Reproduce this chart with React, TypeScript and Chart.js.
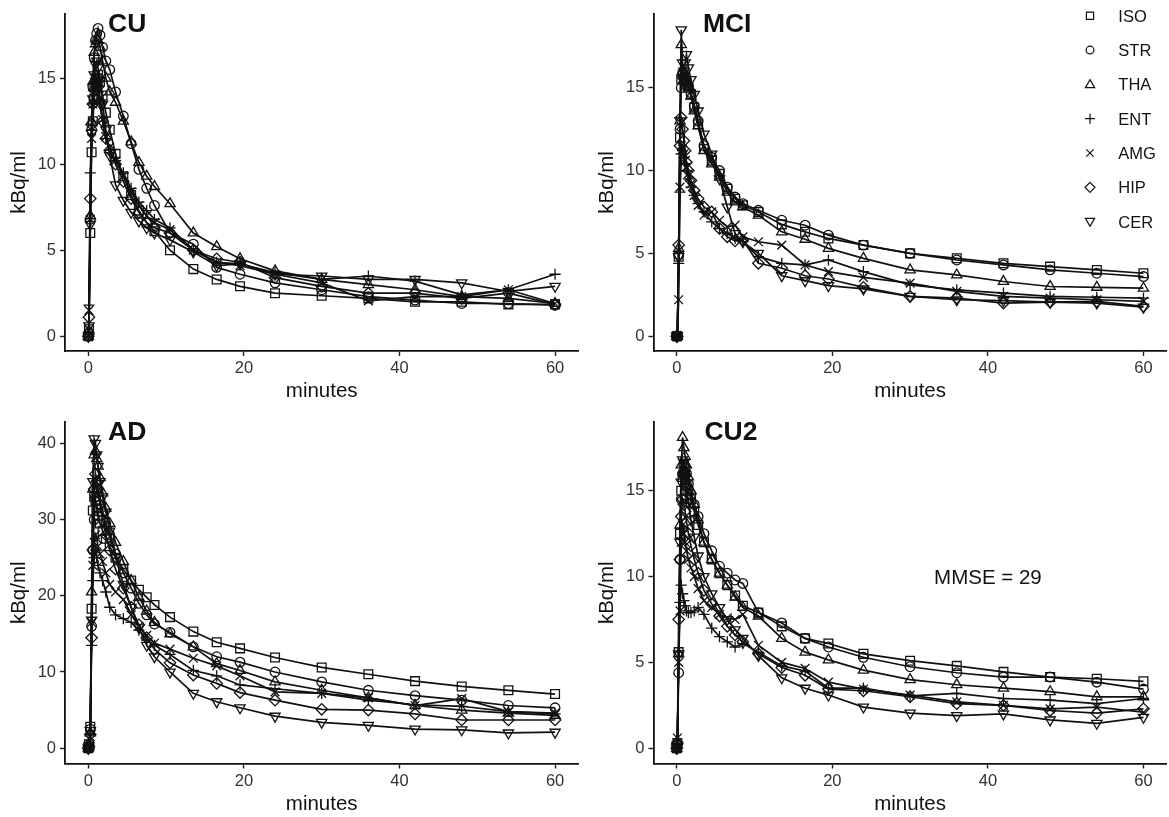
import React, { useEffect, useRef } from "react";
import { Chart, registerables } from "chart.js";

Chart.register(...registerables);

// ---------- data ----------
const minutes = [0, 0.08, 0.25, 0.42, 0.58, 0.75, 0.92, 1.08, 1.25, 1.5, 1.83, 2.25, 2.75, 3.5, 4.5, 5.5, 6.5, 7.5, 8.5, 10.5, 13.5, 16.5, 19.5, 24, 30, 36, 42, 48, 54, 60];
const regions = ["ISO", "STR", "THA", "ENT", "AMG", "HIP", "CER"];
const xTicks = [0, 20, 40, 60];
const yTicksSmall = [0, 5, 10, 15];
const yTicksAD = [0, 10, 20, 30, 40];

const cuISO = [0, 0.4, 6.0, 10.7, 12.5, 13.8, 14.5, 15.0, 15.2, 14.8, 14.0, 13.0, 12.0, 10.6, 9.3, 8.2, 7.3, 6.6, 6.1, 5.0, 3.9, 3.3, 2.9, 2.5, 2.35, 2.2, 2.0, 2.0, 1.85, 1.85];
const cuSTR = [0, 0.2, 6.8, 12.0, 14.5, 16.2, 17.2, 17.6, 17.9, 17.5, 16.8, 16.0, 15.5, 14.2, 12.8, 11.2, 9.7, 8.6, 7.6, 6.0, 5.35, 4.0, 3.6, 3.1, 2.7, 2.3, 2.1, 1.9, 1.9, 1.8];
const cuTHA = [0, 0.3, 7.0, 12.5, 14.8, 16.5, 17.0, 17.3, 17.2, 16.8, 16.0, 15.0, 14.2, 13.6, 12.5, 11.3, 10.1, 9.3, 8.7, 7.7, 6.0, 5.2, 4.5, 3.8, 3.3, 3.0, 2.7, 2.3, 2.2, 1.9];
const cuENT = [0, 1.8, 9.5, 12.0, 13.5, 14.5, 15.0, 14.8, 14.2, 13.5, 12.5, 11.5, 10.8, 10.2, 9.5, 8.6, 7.8, 7.3, 6.8, 6.3, 5.0, 4.3, 4.2, 3.7, 3.3, 3.5, 3.2, 2.4, 2.7, 3.6];
const cuAMG = [0, 1.5, 6.8, 11.5, 13.5, 14.5, 15.0, 15.0, 14.6, 13.8, 12.6, 11.6, 11.0, 10.2, 9.3, 8.4, 7.6, 7.0, 6.6, 6.2, 5.0, 4.3, 4.1, 3.6, 3.1, 2.05, 2.3, 2.3, 2.7, 1.9];
const cuHIP = [0, 1.1, 8.0, 12.3, 13.5, 14.3, 14.8, 14.9, 14.5, 13.6, 12.5, 11.5, 10.8, 10.0, 9.0, 8.0, 7.2, 6.6, 6.3, 6.0, 5.0, 4.5, 4.3, 3.4, 2.9, 2.5, 2.5, 2.2, 2.5, 1.85];
const cuCER = [0, 0.6, 6.5, 11.8, 13.8, 15.2, 15.8, 16.0, 15.6, 14.8, 13.5, 12.0, 10.5, 8.8, 7.9, 7.2, 6.7, 6.3, 6.0, 5.6, 4.9, 4.1, 4.2, 3.6, 3.5, 3.3, 3.3, 3.1, 2.6, 2.9];

const mciISO = [0, 0, 4.8, 12.0, 15.5, 15.8, 15.5, 15.4, 15.2, 15.0, 14.6, 13.8, 12.8, 11.3, 10.6, 9.8, 8.9, 8.3, 7.9, 7.5, 6.75, 6.3, 5.9, 5.5, 5.0, 4.7, 4.4, 4.2, 4.0, 3.8];
const mciSTR = [0, 0, 4.9, 12.5, 15.0, 15.8, 15.6, 15.5, 15.3, 15.1, 14.7, 13.9, 13.0, 11.5, 10.8, 10.0, 9.0, 8.4, 8.0, 7.6, 7.0, 6.7, 6.1, 5.5, 5.0, 4.6, 4.3, 4.0, 3.8, 3.6];
const mciTHA = [0, 0, 5.3, 13.0, 17.6, 16.0, 15.5, 15.6, 15.4, 15.0, 14.5, 13.6, 12.7, 11.2, 10.4, 9.6, 8.7, 8.1, 7.8, 7.3, 6.3, 5.85, 5.3, 4.7, 4.0, 3.7, 3.3, 3.0, 2.95, 2.9];
const mciENT = [0, 0, 4.4, 8.7, 11.0, 11.2, 10.8, 10.4, 10.0, 9.5, 9.0, 8.5, 8.0, 7.5, 6.9, 6.5, 6.2, 5.9, 5.7, 4.8, 4.4, 4.3, 4.6, 3.9, 3.1, 2.8, 2.6, 2.4, 2.35, 2.3];
const mciAMG = [0, 0, 2.2, 9.0, 11.5, 11.3, 11.0, 10.6, 10.2, 9.8, 9.2, 8.5, 7.9, 7.3, 7.5, 7.0, 6.6, 6.7, 6.0, 5.7, 5.5, 4.3, 3.9, 3.55, 3.2, 2.7, 2.4, 2.3, 2.2, 2.1];
const mciHIP = [0, 0, 5.5, 11.5, 13.2, 12.5, 11.8, 11.2, 10.5, 10.0, 9.4, 8.8, 8.3, 7.8, 7.5, 6.5, 6.0, 5.75, 5.8, 4.4, 4.1, 3.65, 3.45, 2.95, 2.4, 2.3, 2.0, 2.05, 2.1, 1.8];
const mciCER = [0, 0, 4.8, 13.0, 18.5, 16.5, 16.0, 16.5, 17.0, 16.2, 15.5, 14.6, 13.6, 12.2, 11.0, 9.5, 7.8, 6.2, 5.7, 5.0, 3.65, 3.35, 3.05, 2.85, 2.4, 2.2, 2.15, 2.05, 2.0, 1.75];

const adISO = [0, 0.5, 2.8, 18.3, 31.2, 33.0, 32.5, 31.5, 30.5, 29.5, 28.5, 27.5, 26.5, 25.0, 23.5, 22.0, 20.8, 19.8, 18.8, 17.2, 15.3, 13.9, 13.1, 11.9, 10.6, 9.7, 8.8, 8.1, 7.6, 7.1];
const adSTR = [0, 0.3, 2.5, 16.0, 26.0, 30.0, 33.0, 34.0, 33.5, 32.5, 31.0, 29.5, 28.0, 25.5, 23.0, 21.0, 19.0, 17.5, 16.3, 15.2, 13.3, 12.0, 11.3, 10.0, 8.7, 7.6, 6.9, 6.3, 5.6, 5.3];
const adTHA = [0, 0.2, 2.0, 20.5, 34.0, 38.5, 39.0, 38.0, 37.0, 35.5, 33.5, 31.5, 29.5, 27.0, 24.5, 22.0, 19.8, 18.0, 16.5, 15.0, 13.3, 11.1, 10.2, 8.7, 7.6, 6.6, 5.6, 5.0, 4.6, 4.3];
const adENT = [0, 0.4, 1.8, 13.5, 22.0, 25.0, 26.0, 25.0, 24.0, 23.0, 22.0, 20.5, 18.5, 17.5, 17.0, 16.5, 15.5, 14.2, 13.5, 12.3, 10.2, 9.5, 8.3, 7.8, 7.2, 6.3, 5.7, 5.5, 4.8, 4.5];
const adAMG = [0, 0.3, 1.5, 16.5, 24.0, 27.0, 28.0, 27.5, 26.5, 25.5, 24.5, 23.0, 21.5, 20.5, 19.5, 17.5, 16.0, 14.8, 13.8, 13.0, 11.8, 10.8, 9.5, 7.4, 7.2, 6.6, 5.6, 6.5, 4.8, 4.6];
const adHIP = [0, 0.2, 1.8, 14.5, 26.0, 34.0, 36.0, 35.0, 34.0, 32.0, 30.0, 28.0, 26.0, 23.5, 21.0, 18.5, 16.2, 14.5, 13.0, 11.2, 9.6, 8.5, 7.3, 6.3, 5.1, 5.0, 4.5, 3.7, 3.7, 3.7];
const adCER = [0, 0.3, 2.3, 16.8, 35.0, 40.6, 40.0, 38.5, 37.0, 35.0, 33.0, 31.0, 28.5, 25.0, 21.5, 18.5, 15.8, 13.5, 12.0, 10.0, 7.2, 6.1, 5.3, 4.2, 3.4, 3.0, 2.5, 2.4, 2.0, 2.1];

const cu2ISO = [0, 0.3, 5.6, 12.5, 15.0, 15.8, 16.0, 15.7, 15.3, 15.0, 14.5, 13.8, 13.0, 12.0, 11.0, 10.2, 9.5, 8.9, 8.3, 7.9, 7.1, 6.4, 6.1, 5.5, 5.1, 4.8, 4.45, 4.15, 4.05, 3.9];
const cu2STR = [0, 0.2, 4.4, 11.0, 14.5, 16.0, 16.5, 16.3, 16.0, 15.4, 14.8, 14.2, 13.5, 12.5, 11.5, 10.6, 10.2, 9.8, 9.6, 7.9, 7.3, 6.4, 5.9, 5.3, 4.75, 4.4, 4.15, 4.15, 3.85, 3.45];
const cu2THA = [0, 0.4, 5.5, 13.0, 16.5, 18.1, 17.5, 17.0, 16.5, 15.8, 15.0, 14.2, 13.3, 12.0, 11.0, 10.2, 9.5, 8.8, 8.2, 7.7, 6.4, 5.6, 5.15, 4.55, 4.0, 3.7, 3.5, 3.3, 3.0, 3.0];
const cu2ENT = [0, 0.3, 5.6, 8.5, 9.5, 9.0, 8.6, 8.3, 8.0, 7.9, 7.9, 8.0, 8.2, 7.8, 7.0, 6.5, 6.2, 5.9, 6.1, 5.6, 4.8, 4.5, 3.5, 3.5, 3.05, 3.2, 2.9, 2.8, 2.6, 2.9];
const cu2AMG = [0, 0.6, 5.0, 8.0, 12.0, 13.0, 12.5, 12.0, 11.5, 11.0, 10.5, 10.0, 9.3, 8.6, 8.2, 7.8, 7.6, 7.5, 7.8, 6.0, 5.0, 4.65, 3.85, 3.45, 3.1, 2.7, 2.5, 2.3, 2.4, 2.1];
const cu2HIP = [0, 0.3, 7.5, 11.0, 13.5, 14.5, 14.2, 13.8, 13.2, 12.5, 11.8, 11.0, 10.2, 9.2, 8.4, 7.7, 7.1, 6.6, 6.2, 5.5, 4.7, 4.25, 3.45, 3.35, 3.0, 2.6, 2.5, 2.2, 2.05, 2.3];
const cu2CER = [0, 0.2, 5.5, 12.0, 15.5, 16.8, 16.6, 16.0, 15.2, 14.3, 13.3, 12.3, 11.2, 10.0, 9.0, 8.2, 7.5, 6.9, 6.4, 5.4, 4.1, 3.5, 3.1, 2.4, 2.05, 1.9, 2.0, 1.65, 1.45, 1.8];

// ---------- styling / layout ----------
const W = 1169;
const H = 817;
const FONT = '"Liberation Sans", Arial, Helvetica, sans-serif';
const INK = "#111111";
const Y_AXIS_W = 58;
const X_AXIS_H = 53;

const markerStyles: { style: string; radius: number; rotation: number }[] = [
  { style: "rect", radius: 6.2, rotation: 0 },
  { style: "circle", radius: 4.8, rotation: 0 },
  { style: "triangle", radius: 5.9, rotation: 0 },
  { style: "cross", radius: 5.6, rotation: 0 },
  { style: "crossRot", radius: 6.2, rotation: 0 },
  { style: "rectRot", radius: 5.7, rotation: 0 },
  { style: "triangle", radius: 5.9, rotation: 180 },
];

type Panel = {
  title: string;
  series: number[][];
  yTicks: number[];
  yMin: number;
  yMax: number;
  area: { left: number; top: number; right: number; bottom: number };
  titleDx: number;
  legend?: boolean;
  note?: { text: string; x: number; y: number };
};

const panels: Panel[] = [
  {
    title: "CU",
    series: [cuISO, cuSTR, cuTHA, cuENT, cuAMG, cuHIP, cuCER],
    yTicks: yTicksSmall,
    yMin: -0.862,
    yMax: 18.74,
    area: { left: 65, top: 10, right: 578.4, bottom: 351 },
    titleDx: 43,
  },
  {
    title: "MCI",
    series: [mciISO, mciSTR, mciTHA, mciENT, mciAMG, mciHIP, mciCER],
    yTicks: yTicksSmall,
    yMin: -0.896,
    yMax: 19.46,
    area: { left: 653.4, top: 10, right: 1166.8, bottom: 351 },
    titleDx: 49.5,
    legend: true,
  },
  {
    title: "AD",
    series: [adISO, adSTR, adTHA, adENT, adAMG, adHIP, adCER],
    yTicks: yTicksAD,
    yMin: -2.01,
    yMax: 42.81,
    area: { left: 65, top: 422, right: 578.4, bottom: 763.5 },
    titleDx: 43,
  },
  {
    title: "CU2",
    series: [cu2ISO, cu2STR, cu2THA, cu2ENT, cu2AMG, cu2HIP, cu2CER],
    yTicks: yTicksSmall,
    yMin: -0.885,
    yMax: 19.0,
    area: { left: 653.4, top: 422, right: 1166.8, bottom: 763.5 },
    titleDx: 51,
    note: { text: "MMSE = 29", x: 40, y: 10 },
  },
];

function drawLegendSymbol(ctx: CanvasRenderingContext2D, i: number, x: number, y: number) {
  ctx.beginPath();
  switch (i) {
    case 0:
      ctx.rect(x - 3.6, y - 3.6, 7.2, 7.2);
      break;
    case 1:
      ctx.arc(x, y, 3.9, 0, Math.PI * 2);
      break;
    case 2:
      ctx.moveTo(x, y - 4.8);
      ctx.lineTo(x + 4.6, y + 3.2);
      ctx.lineTo(x - 4.6, y + 3.2);
      ctx.closePath();
      break;
    case 3:
      ctx.moveTo(x - 5, y);
      ctx.lineTo(x + 5, y);
      ctx.moveTo(x, y - 5);
      ctx.lineTo(x, y + 5);
      break;
    case 4:
      ctx.moveTo(x - 3.7, y - 3.7);
      ctx.lineTo(x + 3.7, y + 3.7);
      ctx.moveTo(x + 3.7, y - 3.7);
      ctx.lineTo(x - 3.7, y + 3.7);
      break;
    case 5:
      ctx.moveTo(x, y - 5);
      ctx.lineTo(x + 5, y);
      ctx.lineTo(x, y + 5);
      ctx.lineTo(x - 5, y);
      ctx.closePath();
      break;
    case 6:
      ctx.moveTo(x, y + 4.8);
      ctx.lineTo(x + 4.6, y - 3.2);
      ctx.lineTo(x - 4.6, y - 3.2);
      ctx.closePath();
      break;
  }
  ctx.stroke();
}

const decorPlugin = {
  id: "panelDecor",
  afterDraw(chart: any, _args: any, opts: any) {
    const ctx: CanvasRenderingContext2D = chart.ctx;
    const { left, top } = chart.chartArea;
    ctx.save();
    ctx.fillStyle = INK;
    ctx.textAlign = "left";
    ctx.textBaseline = "alphabetic";
    ctx.font = `bold 26.5px ${FONT}`;
    ctx.fillText(opts.title, left + opts.titleDx, top + 18);

    if (opts.note) {
      const xs = chart.scales.x;
      const ys = chart.scales.y;
      ctx.font = `20.5px ${FONT}`;
      ctx.textAlign = "center";
      ctx.fillText(opts.note.text, xs.getPixelForValue(opts.note.x), ys.getPixelForValue(opts.note.y) + 7.4);
    }

    if (opts.legend) {
      ctx.strokeStyle = INK;
      ctx.lineWidth = 1.2;
      ctx.font = `16.5px ${FONT}`;
      ctx.textAlign = "left";
      regions.forEach((name, i) => {
        const cy = 15.8 + i * 34.3;
        drawLegendSymbol(ctx, i, 1090, cy);
        ctx.fillText(name, 1118.3, cy + 5.9);
      });
    }
    ctx.restore();
  },
};

function PanelChart({ panel }: { panel: Panel }) {
  const ref = useRef<HTMLCanvasElement | null>(null);
  useEffect(() => {
    if (!ref.current) return;
    const a = panel.area;
    const datasets = panel.series.map((vals, i) => ({
      label: regions[i],
      data: minutes.map((t, k) => ({ x: t, y: vals[k] })),
      borderColor: INK,
      borderWidth: 1.7,
      pointStyle: markerStyles[i].style as any,
      pointRadius: markerStyles[i].radius,
      pointRotation: markerStyles[i].rotation,
      pointBorderColor: INK,
      pointBackgroundColor: "rgba(0,0,0,0)",
      pointBorderWidth: 1.3,
      pointHoverRadius: markerStyles[i].radius,
      tension: 0,
      fill: false,
    }));
    const chart = new Chart(ref.current, {
      type: "line",
      data: { datasets },
      plugins: [decorPlugin as any],
      options: {
        animation: false,
        responsive: false,
        maintainAspectRatio: false,
        events: [],
        layout: {
          autoPadding: false,
          padding: {
            left: a.left - Y_AXIS_W,
            top: a.top,
            right: W - a.right,
            bottom: H - a.bottom - X_AXIS_H,
          },
        } as any,
        plugins: {
          legend: { display: false },
          tooltip: { enabled: false },
          panelDecor: { title: panel.title, titleDx: panel.titleDx, legend: !!panel.legend, note: panel.note },
        } as any,
        scales: {
          x: {
            type: "linear",
            min: -3,
            max: 63,
            afterBuildTicks: (s: any) => {
              s.ticks = xTicks.map((v) => ({ value: v }));
            },
            afterFit: (s: any) => {
              s.height = X_AXIS_H;
            },
            border: { display: true, color: INK, width: 1.8 },
            grid: { display: true, drawOnChartArea: false, drawTicks: true, tickLength: 5, tickColor: "#222", tickWidth: 1.4 } as any,
            ticks: { color: "#333333", font: { family: FONT, size: 16.5 }, padding: 3, maxRotation: 0, autoSkip: false },
            title: { display: true, text: "minutes", color: INK, font: { family: FONT, size: 20.5 }, padding: 0 },
          },
          y: {
            type: "linear",
            min: panel.yMin,
            max: panel.yMax,
            afterBuildTicks: (s: any) => {
              s.ticks = panel.yTicks.map((v) => ({ value: v }));
            },
            afterFit: (s: any) => {
              s.width = Y_AXIS_W;
            },
            border: { display: true, color: INK, width: 1.8 },
            grid: { display: true, drawOnChartArea: false, drawTicks: true, tickLength: 5, tickColor: "#222", tickWidth: 1.4 } as any,
            ticks: { color: "#333333", font: { family: FONT, size: 16.5 }, padding: 4, autoSkip: false },
            title: { display: true, text: "kBq/ml", color: INK, font: { family: FONT, size: 20.5 }, padding: 0 },
          },
        },
      },
    });
    return () => chart.destroy();
  }, [panel]);
  return (
    <canvas
      ref={ref}
      width={W}
      height={H}
      style={{ position: "absolute", left: 0, top: 0, width: W, height: H }}
    />
  );
}

export default function App() {
  return (
    <div style={{ position: "fixed", left: 0, top: 0, width: W, height: H, background: "#ffffff", overflow: "hidden" }}>
      {panels.map((p) => (
        <PanelChart key={p.title} panel={p} />
      ))}
    </div>
  );
}
